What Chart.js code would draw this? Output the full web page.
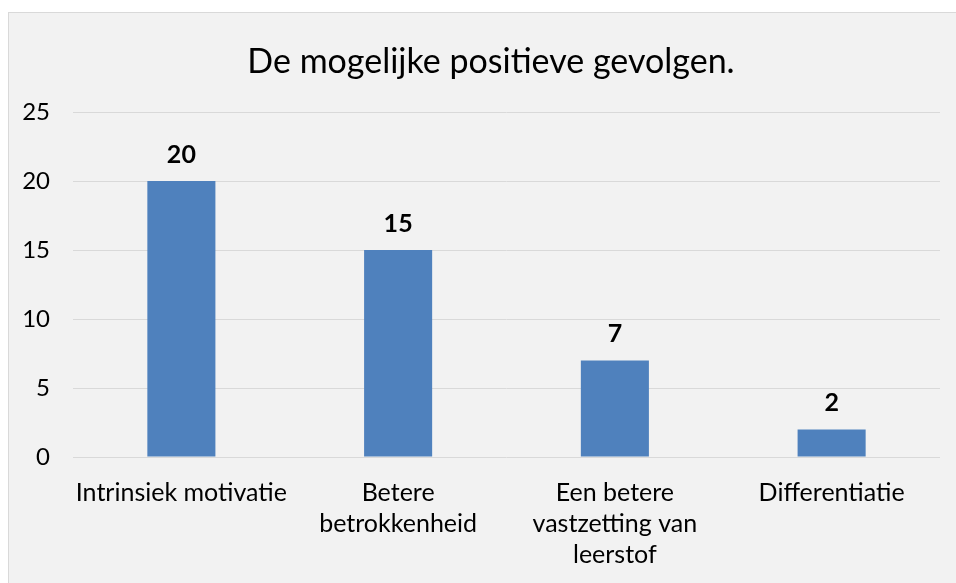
<!DOCTYPE html>
<html>
<head>
<meta charset="utf-8">
<script src="https://cdn.jsdelivr.net/npm/chart.js@4.4.1/dist/chart.umd.min.js"></script>
<style>
    html, body { margin: 0; padding: 0; background: #fff; width: 956px; height: 583px; overflow: hidden; }
    .box {
        position: absolute; left: 8px; top: 12px;
        width: 964px; height: 600px;
        border: 1px solid #d9d9d9; background: #f2f2f2;
    }
    canvas { display: block; }
</style>
</head>
<body>
<div class="box"><canvas id="chart" width="964" height="600"></canvas></div>
<script>
// data
const categories = [
    "Intrinsiek motivatie",
    ["Betere", "betrokkenheid"],
    ["Een betere", "vastzetting van", "leerstof"],
    "Differentiatie"
];
const values = [20, 15, 7, 2];
const yTicks = [0, 5, 10, 15, 20, 25];

const chartTitle = "De mogelijke positieve gevolgen.";
const barColor = "#4f81bd";
const fontFamily = "Lato, 'Open Sans', sans-serif";

// title centred on the whole chart box (not on the plot area)
const boxTitle = {
    id: "boxTitle",
    afterDraw: function (chart) {
        const ctx = chart.ctx;
        ctx.save();
        ctx.font = "34px " + fontFamily;
        ctx.fillStyle = "#000";
        ctx.textAlign = "center";
        ctx.textBaseline = "middle";
        ctx.fillText(chartTitle, chart.width / 2, 49);
        ctx.restore();
    }
};

// draws the bold numbers above the bars
const valueLabels = {
    id: "valueLabels",
    afterDatasetsDraw: function (chart) {
        const ctx = chart.ctx;
        const meta = chart.getDatasetMeta(0);
        ctx.save();
        ctx.font = "bold 25px " + fontFamily;
        ctx.fillStyle = "#000";
        ctx.textAlign = "center";
        ctx.textBaseline = "middle";
        meta.data.forEach((bar, i) => {
            ctx.fillText(String(chart.data.datasets[0].data[i]), bar.x, bar.y - 26);
        });
        ctx.restore();
    }
};

new Chart(document.getElementById("chart"), {
    type: "bar",
    data: {
        labels: categories,
        datasets: [{
            data: values,
            backgroundColor: barColor,
            borderWidth: 0,
            categoryPercentage: 1,
            barPercentage: 0.314
        }]
    },
    options: {
        responsive: false,
        animation: false,
        events: [],
        layout: { padding: { left: 0, right: 33, top: 99, bottom: 0 } },
        plugins: {
            legend: { display: false },
            tooltip: { enabled: false },
            title: { display: false }
        },
        scales: {
            x: {
                grid: { display: false, drawTicks: false },
                border: { display: false },
                ticks: {
                    color: "#000",
                    font: { family: fontFamily, size: 25, lineHeight: 1.24 },
                    padding: 20,
                    maxRotation: 0,
                    minRotation: 0,
                    autoSkip: false
                },
                afterFit: function (scale) { scale.height = 156; }
            },
            y: {
                min: 0,
                max: 25,
                afterBuildTicks: function (scale) {
                    scale.ticks = yTicks.map(v => ({ value: v }));
                },
                grid: { color: "#d9d9d9", lineWidth: 1, drawTicks: false },
                border: { display: false },
                ticks: {
                    color: "#000",
                    font: { family: fontFamily, size: 24 },
                    padding: 23
                },
                afterFit: function (scale) { scale.width = 64; }
            }
        }
    },
    plugins: [boxTitle, valueLabels]
});
</script>
</body>
</html>
